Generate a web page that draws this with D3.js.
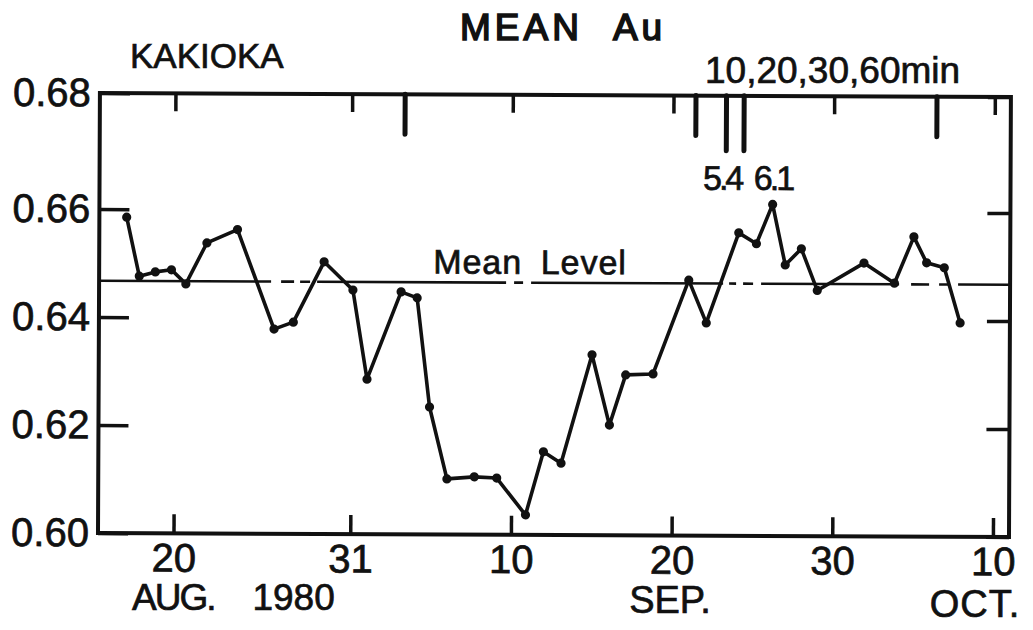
<!DOCTYPE html>
<html>
<head>
<meta charset="utf-8">
<title>Mean Au - Kakioka 1980</title>
<script src="https://cdn.jsdelivr.net/npm/d3@7/dist/d3.min.js"></script>
<style>
  body { margin: 0; background: #fff; }
  svg text { font-family: "Liberation Sans", Arial, sans-serif; fill: #111; stroke: #111; stroke-width: 0.7px; }
</style>
</head>
<body>
<script>
// days counted from 1 Aug 1980 (Sep 1 = 32, Oct 1 = 62)
var dayAug = [17.0, 17.8, 18.8, 19.8, 20.7, 22.0, 23.9, 26.2, 27.4, 29.3,
              31.1, 32.0, 34.1, 35.1, 35.9, 37.0, 38.7, 40.1, 41.9, 43.0,
              44.1, 46.0, 47.1, 48.1, 49.8, 52.0, 53.1, 55.1, 56.2, 57.2,
              58.0, 59.0, 60.0, 62.9, 64.8, 66.0, 66.8, 67.9, 68.9];
var meanAu = [0.6585, 0.6476, 0.6484, 0.6488, 0.6462, 0.6538, 0.6563, 0.6379, 0.6392, 0.6504,
              0.6452, 0.6287, 0.6449, 0.6438, 0.6236, 0.6103, 0.6107, 0.6105, 0.6037, 0.6154,
              0.6133, 0.6334, 0.6204, 0.6297, 0.6299, 0.6473, 0.6394, 0.6561, 0.6541, 0.6613,
              0.6502, 0.6532, 0.6455, 0.6506, 0.6469, 0.6555, 0.6507, 0.6498, 0.6396];
var meanLevel = 0.6467;

var xTicks = [20, 31, 41, 51, 61, 71];
var xTickLabels = ["20", "31", "10", "20", "30", "10"];
var yTicks = [0.60, 0.62, 0.64, 0.66, 0.68];

// storm marks along the top edge
var stormDay = [34.3, 52.4, 54.3, 55.4, 67.4];
var stormKind = ["mid", "mid", "long", "long", "mid"];
var stormLabel = ["", "", "5.4", "6.1", ""];

var W = 1033, H = 630;
var svg = d3.select("body").append("svg").attr("width", W).attr("height", H);
svg.append("rect").attr("width", W).attr("height", H).attr("fill", "#fff");

var x = d3.scaleLinear().domain([15.3, 72.0]).range([98, 1009]);
// hand-drawn axis: the top interval is a bit taller than the others
var y = d3.scaleLinear().domain([0.60, 0.66, 0.68]).range([533, 209, 93]);

// the scanned figure is tilted slightly
var g = svg.append("g").attr("transform", "rotate(0.25, 98, 533)");

// frame
g.append("rect")
  .attr("x", x(15.3)).attr("y", y(0.68))
  .attr("width", x(72.0) - x(15.3)).attr("height", y(0.60) - y(0.68))
  .attr("fill", "none").attr("stroke", "#111").attr("stroke-width", 4);

function styleAxis(sel, fs) {
  sel.select(".domain").remove();
  sel.selectAll("line").attr("stroke", "#111").attr("stroke-width", 3.5);
  sel.selectAll("text").attr("font-size", fs).attr("fill", "#111");
}

var xAxis = d3.axisBottom(x).tickValues(xTicks)
  .tickFormat(function(d, i) { return xTickLabels[i]; })
  .tickSizeInner(-19).tickSizeOuter(0).tickPadding(10);
g.append("g").attr("transform", "translate(0," + y(0.60) + ")").call(xAxis)
  .call(styleAxis, 40);

var xTop = d3.axisTop(x).tickValues(xTicks).tickFormat("")
  .tickSizeInner(-18).tickSizeOuter(0);
g.append("g").attr("transform", "translate(0," + y(0.68) + ")").call(xTop)
  .call(styleAxis, 40);

var yAxis = d3.axisLeft(y).tickValues(yTicks).tickFormat(d3.format(".2f"))
  .tickSizeInner(-30).tickSizeOuter(0).tickPadding(9);
g.append("g").attr("transform", "translate(" + x(15.3) + ",0)").call(yAxis)
  .call(styleAxis, 40);

var yRight = d3.axisRight(y).tickValues(yTicks).tickFormat("")
  .tickSizeInner(-23).tickSizeOuter(0);
g.append("g").attr("transform", "translate(" + x(72.0) + ",0)").call(yRight)
  .call(styleAxis, 40);

// storm ticks
var stormLen = { mid: 40, long: 55 };
g.selectAll(".storm").data(stormDay).enter().append("line")
  .attr("x1", function(d) { return x(d); }).attr("x2", function(d) { return x(d); })
  .attr("y1", y(0.68))
  .attr("y2", function(d, i) { return y(0.68) + stormLen[stormKind[i]]; })
  .attr("stroke", "#111").attr("stroke-width", 5).attr("stroke-linecap", "round");

g.selectAll(".stormlab").data(stormDay).enter().append("text")
  .attr("x", function(d, i) { return x(d) + (i === 3 ? 10 : -4); })
  .attr("y", 187)
  .attr("text-anchor", function(d, i) { return i === 3 ? "start" : "middle"; })
  .attr("font-size", 34).attr("letter-spacing", -3)
  .text(function(d, i) { return stormLabel[i]; });

// mean level line (broken in places, as drawn)
g.append("line")
  .attr("x1", x(15.3)).attr("x2", x(72.0))
  .attr("y1", y(meanLevel)).attr("y2", y(meanLevel))
  .attr("stroke", "#111").attr("stroke-width", 2.6)
  .attr("stroke-dasharray", "172 10 13 6 10 7 189 8 9 8 192 6 7 7 10 8 138 12 18 10 10 9 60");

g.append("text").attr("x", 432).attr("y", 272)
  .attr("font-size", 34).attr("letter-spacing", 1).attr("word-spacing", 8)
  .text("Mean Level");

// series
var pts = dayAug.map(function(d, i) { return [d, meanAu[i]]; });
var line = d3.line().x(function(d) { return x(d[0]); }).y(function(d) { return y(d[1]); });
g.append("path").datum(pts).attr("d", line)
  .attr("fill", "none").attr("stroke", "#111").attr("stroke-width", 3.6)
  .attr("stroke-linejoin", "round");
g.selectAll(".dot").data(pts).enter().append("circle")
  .attr("cx", function(d) { return x(d[0]); })
  .attr("cy", function(d) { return y(d[1]); })
  .attr("r", 4.6).attr("fill", "#111");

// titles and month labels
svg.append("text").attr("x", 460).attr("y", 40)
  .attr("font-size", 37).attr("letter-spacing", 4).style("stroke-width", "1.6px")
  .text("MEAN").append("tspan").attr("dx", 30).text("Au");
svg.append("text").attr("x", 130).attr("y", 68).attr("font-size", 35).text("KAKIOKA");
svg.append("text").attr("x", 705).attr("y", 83).attr("font-size", 37).text("10,20,30,60min");

svg.append("text").attr("x", 132).attr("y", 610).attr("font-size", 37).attr("letter-spacing", -2)
  .text("AUG.").append("tspan").attr("dx", 38).attr("letter-spacing", 0).text("1980");
svg.append("text").attr("x", 670).attr("y", 613).attr("font-size", 38)
  .attr("text-anchor", "middle").text("SEP.");
svg.append("text").attr("x", 975).attr("y", 617).attr("font-size", 38)
  .attr("text-anchor", "middle").attr("letter-spacing", 1).text("OCT.");
</script>
</body>
</html>
